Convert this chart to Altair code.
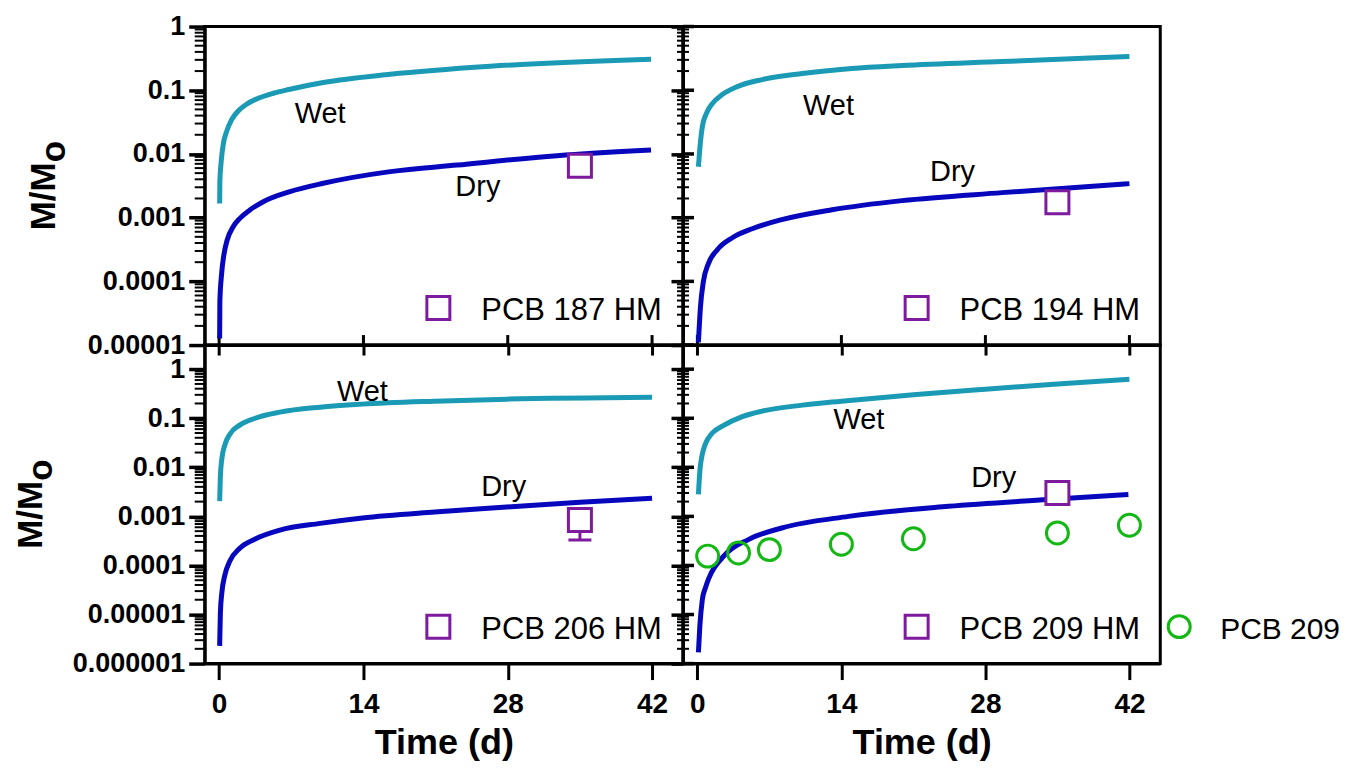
import altair as alt
import pandas as pd

FONT = "Liberation Sans"
WET_C = "#1A9AB4"
DRY_C = "#0707BE"
HM_C = "#7D1A9D"
PCB_C = "#14B814"

# ---------------- values ----------------
# Panel A (PCB 187)
a_wet_t = [0.05, 0.07, 0.2, 0.39, 0.72, 1.2, 1.85, 2.66, 3.63, 5.25, 6.87, 10.1, 16.6, 26.3, 41.9]
a_wet_m = [1.67e-3, 3.67e-3, 7.6e-3, 0.0139, 0.0224, 0.0342, 0.0473, 0.0603, 0.073, 0.0897,
           0.1035, 0.132, 0.178, 0.238, 0.307]
a_dry_t = [0.05, 0.07, 0.23, 0.46, 0.78, 1.36, 2.01, 2.98, 4.28, 6.87, 10.1, 16.6, 23.1, 32.8, 41.9]
a_dry_m = [1.27e-5, 4.8e-5, 1.26e-4, 2.6e-4, 4.46e-4, 7.2e-4, 9.75e-4, 1.32e-3, 1.78e-3, 2.56e-3,
           3.46e-3, 5.28e-3, 6.7e-3, 9.4e-3, 0.01156]
a_hm_t = [35]
a_hm_m = [6.5e-3]

# Panel B (PCB 194)
b_wet_t = [0.1, 0.3, 0.48, 0.87, 1.45, 2.42, 3.88, 6.3, 10.2, 15.0, 19.9, 29.6, 42.0]
b_wet_m = [6.3e-3, 0.0156, 0.0269, 0.043, 0.0617, 0.0855, 0.114, 0.147, 0.183, 0.219, 0.244,
           0.282, 0.338]
b_dry_t = [0.1, 0.3, 0.58, 1.07, 1.94, 3.4, 5.33, 8.2, 13.1, 19.9, 29.6, 42.0]
b_dry_m = [1.1e-5, 4e-5, 9.9e-5, 1.9e-4, 3.14e-4, 4.84e-4, 6.7e-4, 9.3e-4, 1.33e-3, 1.85e-3,
           2.47e-3, 3.42e-3]
b_hm_t = [35]
b_hm_m = [1.74e-3]

# Panel C (PCB 206)
c_wet_t = [0.05, 0.12, 0.26, 0.55, 1.04, 2.0, 3.5, 5.9, 9.8, 13.9, 20.9, 27.9, 42.0]
c_wet_m = [2.04e-3, 6.6e-3, 0.0147, 0.0283, 0.0474, 0.0724, 0.1, 0.133, 0.168, 0.194, 0.223,
           0.245, 0.268]
c_dry_t = [0.05, 0.12, 0.26, 0.55, 1.04, 2.0, 3.5, 5.9, 9.8, 13.9, 20.9, 27.9, 35.0, 42.0]
c_dry_m = [2.3e-6, 1.07e-5, 2.75e-5, 6.3e-5, 1.23e-4, 2.24e-4, 3.46e-4, 5.25e-4, 7.2e-4, 9.3e-4,
           1.23e-3, 1.55e-3, 1.95e-3, 2.35e-3]
c_hm_t = [35]
c_hm_m = [8.4e-4]
c_hm_lo = [3.3e-4]

# Panel D (PCB 209)
d_wet_t = [0.1, 0.24, 0.44, 0.78, 1.45, 2.42, 4.36, 6.3, 10.2, 14.0, 21.0, 28.0, 35.0, 42.0]
d_wet_m = [2.8e-3, 8.4e-3, 0.017, 0.03, 0.05, 0.069, 0.108, 0.14, 0.185, 0.223, 0.3, 0.39,
           0.5, 0.625]
d_dry_t = [0.1, 0.24, 0.48, 0.8, 1.13, 2.42, 5.0, 8.2, 14.7, 24.4, 34.1, 41.9]
d_dry_m = [1.7e-6, 5.9e-6, 2.0e-5, 3.6e-5, 5.6e-5, 1.44e-4, 3.4e-4, 5.8e-4, 1.0e-3, 1.6e-3,
           2.2e-3, 2.8e-3]
d_hm_t = [35]
d_hm_m = [3.0e-3]
d_pcb_t = [1, 4, 7, 14, 21, 35, 42]
d_pcb_m = [1.55e-4, 1.8e-4, 2.1e-4, 2.7e-4, 3.5e-4, 4.6e-4, 6.6e-4]

# curve labels (time, M/Mo anchor)
a_note_t = [9.8, 25.1]
a_note_m = [0.0303, 2.21e-3]
b_note_t = [12.75, 24.8]
b_note_m = [0.0415, 3.8e-3]
c_note_t = [13.9, 27.6]
c_note_m = [0.223, 2.6e-3]
d_note_t = [15.7, 28.8]
d_note_m = [0.06, 3.97e-3]
note_labels = ["Wet", "Dry"]

legend_a = "PCB 187 HM"
legend_b = "PCB 194 HM"
legend_c = "PCB 206 HM"
legend_d = "PCB 209 HM"
legend_pcb = "PCB 209"

x_ticks = [0, 14, 28, 42]
X_DOMAIN = [-1.4, 45]
TOP_DOMAIN = [1e-5, 1]
BOT_DOMAIN = [1e-6, 3.1]

H = 319


def decades(lo, hi):
    return [float(f"1e{e}") for e in range(lo, hi + 1)]


def minors(lo, hi):
    vals = []
    for e in range(lo, hi):
        for m in range(2, 10):
            vals.append(float(f"{m}e{e}"))
    return vals


LABEL = ("round(log(datum.value)/LN10) >= 0 ? '1' : "
         "'0.' + pad('1', -round(log(datum.value)/LN10), '0', 'left')")


def build_panel(wet_t, wet_m, dry_t, dry_m, hm_t, hm_m, note_t, note_m, legend,
                ydom, majors, minor_vals, width, left, bottom, title_x=None, err_lo=None,
                pcb_t=None, pcb_m=None):
    xs = alt.Scale(domain=X_DOMAIN, nice=False, zero=False)
    ys = alt.Scale(type="log", domain=ydom, nice=False)
    xa = alt.Axis(values=x_ticks, labels=bottom, format="d", labelFont=FONT,
                  labelFontSize=28, labelFontWeight="bold", labelColor="black",
                  labelPadding=11, labelFlush=False, tickSize=16 if bottom else 10,
                  tickWidth=3, tickColor="black", domainColor="black", domainWidth=3,
                  grid=False, title="Time (d)" if bottom else None, titleFont=FONT,
                  titleFontSize=36, titleFontWeight="bold", titleColor="black",
                  titlePadding=7)
    ya = alt.Axis(values=majors, labels=left, labelExpr=LABEL, labelFont=FONT,
                  labelFontSize=27, labelFontWeight="bold", labelColor="black",
                  labelPadding=4, labelOverlap=False, labelFlush=False, labelBound=False,
                  tickSize=16 if left else 12, tickWidth=3.5,
                  tickColor="black", domainColor="black", domainWidth=3, grid=False,
                  title=None)
    X = alt.X("t:Q", scale=xs, axis=xa)
    Y = alt.Y("m:Q", scale=ys, axis=ya)

    layers = []
    # minor log ticks (and inward tick halves on the shared middle axis)
    mdf = pd.DataFrame({"m": minor_vals})
    if left:
        layers.append(alt.Chart(mdf).mark_rule(color="black", strokeWidth=2).encode(
            y=Y, x=alt.value(-10), x2=alt.value(0)))
    else:
        layers.append(alt.Chart(mdf).mark_rule(color="black", strokeWidth=2).encode(
            y=Y, x=alt.value(-6), x2=alt.value(6)))
        jdf = pd.DataFrame({"m": majors})
        layers.append(alt.Chart(jdf).mark_rule(color="black", strokeWidth=3.5).encode(
            y=Y, x=alt.value(0), x2=alt.value(11)))
    if not bottom:
        tdf = pd.DataFrame({"t": x_ticks})
        layers.append(alt.Chart(tdf).mark_rule(color="black", strokeWidth=3).encode(
            x=X, y=alt.value(H - 10), y2=alt.value(H)))

    curves = pd.concat([
        pd.DataFrame({"t": wet_t, "m": wet_m, "cond": "Wet"}),
        pd.DataFrame({"t": dry_t, "m": dry_m, "cond": "Dry"}),
    ])
    layers.append(
        alt.Chart(curves).mark_line(strokeWidth=5, interpolate="monotone").encode(
            x=X, y=Y,
            color=alt.Color("cond:N", scale=alt.Scale(domain=["Wet", "Dry"], range=[WET_C, DRY_C]),
                            legend=None),
            detail="cond:N",
        )
    )
    if err_lo is not None:
        edf = pd.DataFrame({"t": hm_t, "m": err_lo, "m2": hm_m})
        layers.append(alt.Chart(edf).mark_rule(color=HM_C, strokeWidth=3).encode(
            x=X, y=Y, y2="m2:Q"))
        layers.append(alt.Chart(edf).mark_point(shape="stroke", size=23 * 23, stroke=HM_C,
                                                strokeWidth=3, opacity=1).encode(x=X, y=Y))
    hdf = pd.DataFrame({"t": hm_t, "m": hm_m})
    layers.append(alt.Chart(hdf).mark_point(shape="square", size=530, filled=True, fill="white",
                                            stroke=HM_C, strokeWidth=3, opacity=1).encode(x=X, y=Y))
    if pcb_t is not None:
        pdf = pd.DataFrame({"t": pcb_t, "m": pcb_m})
        layers.append(alt.Chart(pdf).mark_point(shape="circle", size=484, filled=False,
                                                stroke=PCB_C, strokeWidth=3, opacity=1).encode(x=X, y=Y))
    ndf = pd.DataFrame({"t": note_t, "m": note_m, "label": note_labels})
    layers.append(alt.Chart(ndf).mark_text(font=FONT, fontSize=29, align="center",
                                           baseline="alphabetic", color="black").encode(
        x=X, y=Y, text="label:N"))

    # legend entries
    layers.append(alt.Chart(pd.DataFrame({"k": [legend]})).mark_point(
        shape="square", size=530, filled=False, stroke=HM_C, strokeWidth=3, opacity=1).encode(
        x=alt.value(234), y=alt.value(282)))
    layers.append(alt.Chart(pd.DataFrame({"k": [legend]})).mark_text(
        font=FONT, fontSize=31, align="left", baseline="alphabetic", color="black").encode(
        x=alt.value(277), y=alt.value(294), text="k:N"))
    if pcb_t is not None:
        layers.append(alt.Chart(pd.DataFrame({"k": [legend_pcb]})).mark_point(
            shape="circle", size=484, filled=False, stroke=PCB_C, strokeWidth=3, opacity=1).encode(
            x=alt.value(497), y=alt.value(282)))
        layers.append(alt.Chart(pd.DataFrame({"k": [legend_pcb]})).mark_text(
            font=FONT, fontSize=30, align="left", baseline="alphabetic", color="black").encode(
            x=alt.value(538), y=alt.value(294), text="k:N"))

    # y title M/Mo (with subscript o)
    if title_x is not None:
        layers.append(alt.Chart(pd.DataFrame({"k": ["M/M"]})).mark_text(
            font=FONT, fontSize=35, fontWeight="bold", angle=270, align="left",
            baseline="alphabetic", color="black").encode(
            x=alt.value(title_x), y=alt.value(H / 2 + 44.5), text="k:N"))
        layers.append(alt.Chart(pd.DataFrame({"k": ["o"]})).mark_text(
            font=FONT, fontSize=35, fontWeight="bold", angle=270, align="left",
            baseline="alphabetic", color="black").encode(
            x=alt.value(title_x + 10), y=alt.value(H / 2 + 44.5 - 68), text="k:N"))

    return alt.layer(*layers).properties(width=width, height=H)


top_major, top_minor = decades(-5, 0), minors(-5, 0)
bot_major, bot_minor = decades(-6, 0), minors(-6, 0)

pa = build_panel(a_wet_t, a_wet_m, a_dry_t, a_dry_m, a_hm_t, a_hm_m, a_note_t, a_note_m,
                 legend_a, TOP_DOMAIN, top_major, top_minor, 479, True, False, title_x=-150)
pb = build_panel(b_wet_t, b_wet_m, b_dry_t, b_dry_m, b_hm_t, b_hm_m, b_note_t, b_note_m,
                 legend_b, TOP_DOMAIN, top_major, top_minor, 478, False, False)
pc = build_panel(c_wet_t, c_wet_m, c_dry_t, c_dry_m, c_hm_t, c_hm_m, c_note_t, c_note_m,
                 legend_c, BOT_DOMAIN, bot_major, bot_minor, 479, True, True, title_x=-163,
                 err_lo=c_hm_lo)
pd_ = build_panel(d_wet_t, d_wet_m, d_dry_t, d_dry_m, d_hm_t, d_hm_m, d_note_t, d_note_m,
                  legend_d, BOT_DOMAIN, bot_major, bot_minor, 478, False, True,
                  pcb_t=d_pcb_t, pcb_m=d_pcb_m)

chart = alt.concat(pa, pb, pc, pd_, columns=2, spacing=0, bounds="flush").configure_view(
    stroke="black", strokeWidth=3
).properties(padding={"left": 4, "top": 2, "right": 0, "bottom": 0})

chart.save("out.html", embed_options={"renderer": "svg", "actions": False})
